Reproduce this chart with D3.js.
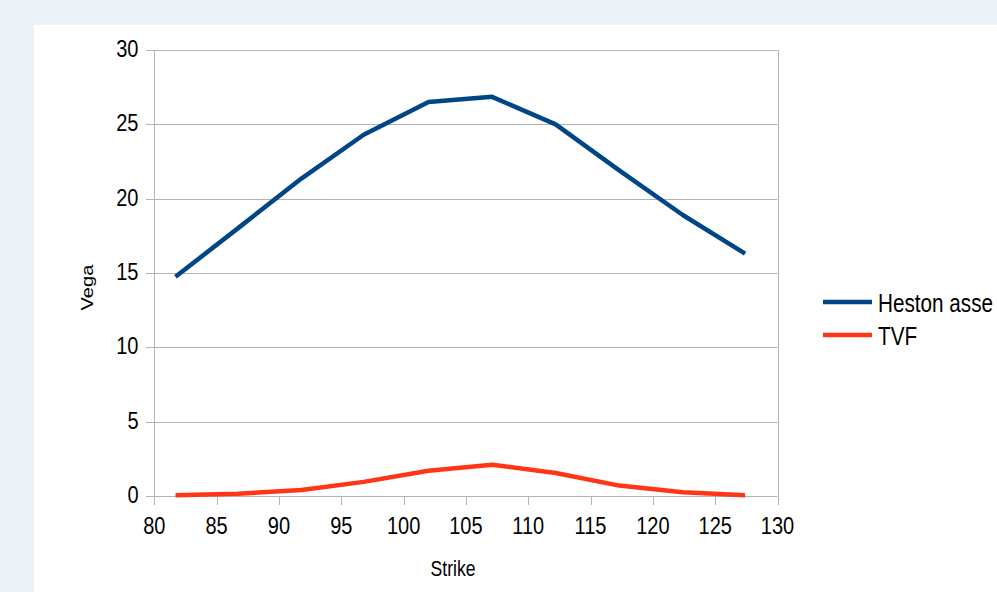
<!DOCTYPE html>
<html><head><meta charset="utf-8">
<script src="https://cdn.jsdelivr.net/npm/d3@7"></script>
<style>
html,body{margin:0;padding:0;background:#edf1f8;overflow:hidden;}
text{font-family:"Liberation Sans",Arial,sans-serif;fill:#000;}
</style></head><body>
<svg id="c" width="997" height="592"></svg>
<script>
const strikes = [81.7, 86.7, 91.8, 96.8, 102.0, 107.1, 112.2, 117.3, 122.4, 127.4];
const heston = [14.75, 18.0, 21.35, 24.3, 26.5, 26.85, 25.0, 21.9, 18.9, 16.3];
const tvf = [0.05, 0.15, 0.4, 0.95, 1.7, 2.1, 1.55, 0.7, 0.25, 0.05];
const xTicks = [80, 85, 90, 95, 100, 105, 110, 115, 120, 125, 130];
const yTicks = [0, 5, 10, 15, 20, 25, 30];
const seriesNames = ["Heston asse", "TVF"];
const seriesColors = ["#004586", "#ff3516"];
const SY = 1.22;

const svg = d3.select("#c");
svg.append("rect").attr("x", 34).attr("y", 25).attr("width", 1000).attr("height", 600).attr("fill", "#fff");

const x = d3.scaleLinear().domain([80, 130]).range([154.3, 777.5]);
const y = d3.scaleLinear().domain([0, 30]).range([496, 50]);
const grid = "#b3b3b3";

svg.append("g").selectAll("line").data(yTicks).join("line")
  .attr("x1", 146).attr("x2", x(130)).attr("y1", d => Math.round(y(d)) + 0.5).attr("y2", d => Math.round(y(d)) + 0.5)
  .attr("stroke", grid).attr("stroke-width", 1);
svg.append("g").selectAll("text").data(yTicks).join("text")
  .attr("transform", d => `translate(138.5,${y(d) - 1.5}) scale(1,${SY})`)
  .attr("dy", "0.35em").attr("text-anchor", "end")
  .attr("font-size", 20).text(d => d);
[80, 130].forEach(v => {
  svg.append("line").attr("x1", Math.round(x(v)) + 0.5).attr("x2", Math.round(x(v)) + 0.5)
    .attr("y1", y(30)).attr("y2", 505).attr("stroke", grid).attr("stroke-width", 1);
});
svg.append("g").selectAll("line").data(xTicks).join("line")
  .attr("x1", d => Math.round(x(d)) + 0.5).attr("x2", d => Math.round(x(d)) + 0.5)
  .attr("y1", 496).attr("y2", 505).attr("stroke", grid);
svg.append("g").selectAll("text").data(xTicks).join("text")
  .attr("transform", d => `translate(${x(d)},534) scale(1,${SY})`)
  .attr("text-anchor", "middle")
  .attr("font-size", 20).text(d => d);

const line = d3.line().x((d, i) => x(strikes[i])).y(d => y(d));
[heston, tvf].forEach((s, k) => {
  svg.append("path").datum(s).attr("d", line).attr("fill", "none")
    .attr("stroke", seriesColors[k]).attr("stroke-width", 4.5).attr("stroke-linejoin", "round");
});

svg.append("text").attr("transform", `translate(453,576) scale(1,${SY})`).attr("text-anchor", "middle").attr("font-size", 17.6).text("Strike");
svg.append("text").attr("transform", `translate(93,287.5) scale(1,${SY}) rotate(-90)`).attr("text-anchor", "middle").attr("font-size", 16.5).text("Vega");

seriesNames.forEach((n, k) => {
  const ly = 302 + k * 33;
  svg.append("line").attr("x1", 823).attr("x2", 872).attr("y1", ly).attr("y2", ly)
    .attr("stroke", seriesColors[k]).attr("stroke-width", 4.5);
  svg.append("text").attr("transform", `translate(878,${ly + 1}) scale(1,${SY})`).attr("dy", "0.35em").attr("font-size", 20.7).text(n);
});
</script>
</body></html>
